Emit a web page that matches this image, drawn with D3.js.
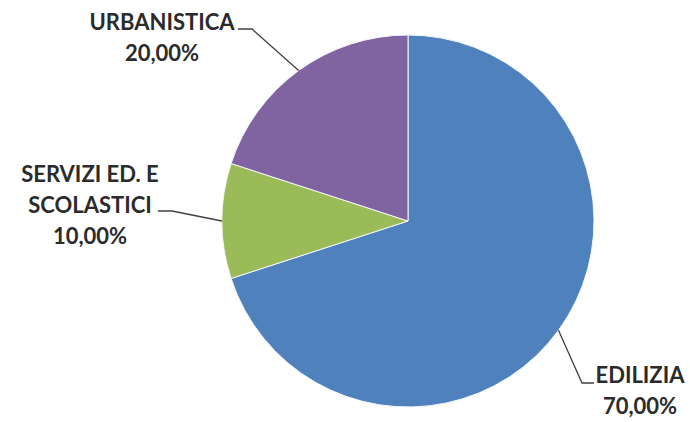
<!DOCTYPE html>
<html>
<head>
<meta charset="utf-8">
<script src="https://cdn.jsdelivr.net/npm/d3@7"></script>
<style>
    body { margin: 0; background: #fff; }
    text { font-family: Lato, 'Open Sans', sans-serif; font-weight: bold; fill: #2b2b2b; }
</style>
</head>
<body>
<svg id="chart" width="690" height="422"></svg>
<script>
// data
const categories = ['EDILIZIA', 'SERVIZI ED. E SCOLASTICI', 'URBANISTICA']
const values = [70, 10, 20]
const labelLines = [['EDILIZIA', '70,00%'], ['SERVIZI ED. E', 'SCOLASTICI', '10,00%'], ['URBANISTICA', '20,00%']]
const colors = ['#4f81bd', '#9bbb59', '#8064a2']

// layout
const cx = 408, cy = 221, r = 186
// label anchor (text centre x, first baseline y) and leader end / elbow
const labelPos = [
    { x: 640, y: 383, end: [594, 383], elbow: [582, 383] },
    { x: 90, y: 182, end: [158, 211], elbow: [172, 211] },
    { x: 162, y: 30, end: [238, 29], elbow: [252, 29] }
]
const lineH = 31

const svg = d3.select('#chart')
const g = svg.append('g').attr('transform', `translate(${cx},${cy})`)

const pie = d3.pie().sort(null).value(d => d)
const arcs = pie(values)
const arc = d3.arc().innerRadius(0).outerRadius(r)

// slices
g.selectAll('path.slice')
    .data(arcs)
    .enter()
    .append('path')
    .attr('class', 'slice')
    .attr('d', arc)
    .attr('fill', (d, i) => colors[i])
    .attr('stroke', '#f4f7fb')
    .attr('stroke-width', 1)

// leader lines
svg.selectAll('polyline.leader')
    .data(arcs)
    .enter()
    .append('polyline')
    .attr('class', 'leader')
    .attr('points', (d, i) => {
        const a = (d.startAngle + d.endAngle) / 2
        const p = [cx + Math.sin(a) * r, cy - Math.cos(a) * r]
        return [p, labelPos[i].elbow, labelPos[i].end].map(q => q.join(',')).join(' ')
    })
    .attr('fill', 'none')
    .attr('stroke', '#404040')
    .attr('stroke-width', 1.3)

// labels
const lbl = svg.selectAll('text.lbl')
    .data(labelLines)
    .enter()
    .append('text')
    .attr('class', 'lbl')
    .attr('text-anchor', 'middle')
    .style('font-size', '22px')

lbl.selectAll('tspan')
    .data((d, i) => d.map((t, j) => ({ t, x: labelPos[i].x, y: labelPos[i].y + j * lineH })))
    .enter()
    .append('tspan')
    .attr('x', d => d.x)
    .attr('y', d => d.y)
    .text(d => d.t)
</script>
</body>
</html>
